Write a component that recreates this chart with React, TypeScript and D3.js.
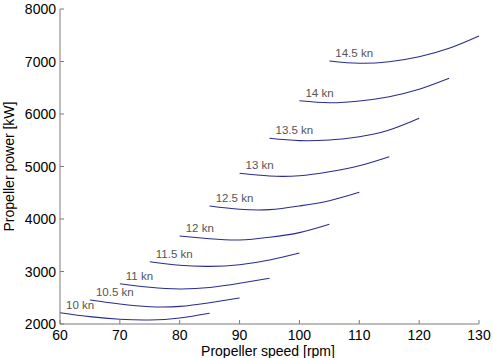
import React from 'react';
import * as d3 from 'd3';

// propeller speed step for every curve (rpm offsets from its start)
const speedLabels = ['10 kn', '10.5 kn', '11 kn', '11.5 kn', '12 kn', '12.5 kn', '13 kn', '13.5 kn', '14 kn', '14.5 kn'];
const startRpm = [60, 65, 70, 75, 80, 85, 90, 95, 100, 105];
const rpmSteps = [0, 5, 10, 15, 20, 25];

// power [kW] at start + rpmSteps
const power10 = [2215, 2140, 2090, 2076, 2115, 2204];
const power105 = [2457, 2381, 2330, 2335, 2405, 2495];
const power11 = [2768, 2700, 2667, 2695, 2775, 2870];
const power115 = [3187, 3118, 3098, 3130, 3219, 3352];
const power12 = [3676, 3625, 3600, 3651, 3740, 3899];
const power125 = [4248, 4186, 4178, 4248, 4349, 4508];
const power13 = [4870, 4819, 4825, 4901, 5015, 5187];
const power135 = [5537, 5492, 5505, 5568, 5695, 5918];
const power14 = [6253, 6215, 6248, 6330, 6470, 6680];
const power145 = [7010, 6966, 6996, 7091, 7251, 7486];
const allPower = [power10, power105, power11, power115, power12, power125, power13, power135, power14, power145];

const xTicks = [60, 70, 80, 90, 100, 110, 120, 130];
const yTicks = [2000, 3000, 4000, 5000, 6000, 7000, 8000];

const font = '"Liberation Sans", Arial, sans-serif';

export default function App() {
  const width = 493, height = 358;
  const left = 60, right = 479, top = 9, bottom = 324;

  const x = d3.scaleLinear().domain([60, 130]).range([left, right]);
  const y = d3.scaleLinear().domain([2000, 8000]).range([bottom, top]);

  const line = d3.line<[number, number]>()
    .x(d => x(d[0]))
    .y(d => y(d[1]))
    .curve(d3.curveNatural);

  const axisColor = '#7a7a7a';

  return (
    <svg width={width} height={height} style={{ position: 'absolute', left: 0, top: 0, background: '#fff' }}>
      {allPower.map((vals, i) => {
        const pts = vals.map((p, j) => [startRpm[i] + rpmSteps[j], p] as [number, number]);
        return (
          <g key={i}>
            <path d={line(pts) || ''} fill="none" stroke="#2a2a90" strokeWidth={1.1} />
            <text x={x(startRpm[i] + 1)} y={y(vals[0]) - 4} fontFamily={font} fontSize={11.5} fill="#555">
              {speedLabels[i]}
            </text>
          </g>
        );
      })}

      <line x1={left} x2={left} y1={top} y2={bottom} stroke={axisColor} />
      <line x1={left} x2={right} y1={bottom} y2={bottom} stroke={axisColor} />

      {yTicks.map(t => (
        <g key={t}>
          <line x1={left} x2={left + 4} y1={y(t)} y2={y(t)} stroke={axisColor} />
          <text x={left - 4} y={y(t) + 5} textAnchor="end" fontFamily={font} fontSize={14} fill="#000">{t}</text>
        </g>
      ))}
      {xTicks.map(t => (
        <g key={t}>
          <line x1={x(t)} x2={x(t)} y1={bottom} y2={bottom - 4} stroke={axisColor} />
          <text x={x(t)} y={340} textAnchor="middle" fontFamily={font} fontSize={14} fill="#000">{t}</text>
        </g>
      ))}

      <text x={268} y={356} textAnchor="middle" fontFamily={font} fontSize={14} fill="#000">Propeller speed [rpm]</text>
      <text transform={`translate(14,${(top + bottom) / 2}) rotate(-90)`} textAnchor="middle" fontFamily={font} fontSize={14} fill="#000">
        Propeller power [kW]
      </text>
    </svg>
  );
}
